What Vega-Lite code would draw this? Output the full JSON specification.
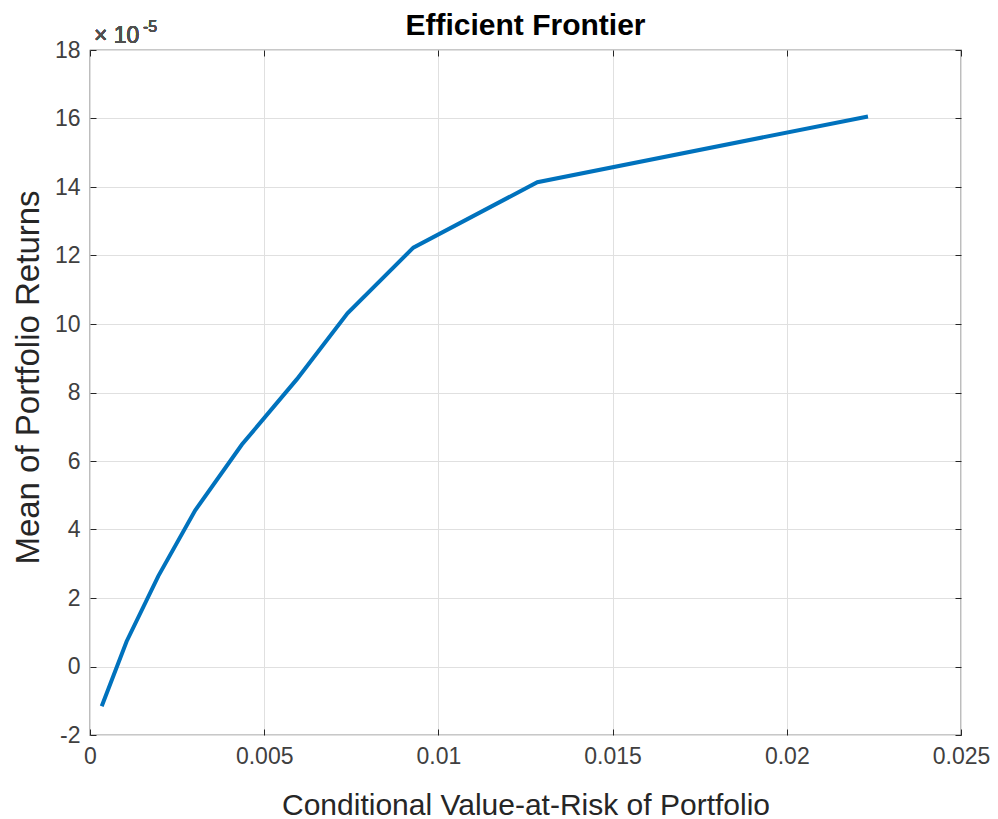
{
  "$schema": "https://vega.github.io/schema/vega-lite/v6.json",
  "autosize": {"type": "none"},
  "width": 871,
  "height": 685,
  "padding": {"left": 90, "top": 50, "right": 37, "bottom": 84},
  "background": "white",
  "title": {
    "text": "Efficient Frontier",
    "fontSize": 30,
    "fontWeight": "bold",
    "font": "Liberation Sans",
    "color": "#000000",
    "baseline": "alphabetic",
    "offset": 15,
    "dy": 61,
    "anchor": "middle"
  },
  "data": {
    "values": [
      {"cvar": 0.000336, "ret": -0.0000116},
      {"cvar": 0.00105, "ret": 0.0000073},
      {"cvar": 0.00196, "ret": 0.0000264},
      {"cvar": 0.00302, "ret": 0.0000456},
      {"cvar": 0.00436, "ret": 0.0000648},
      {"cvar": 0.00594, "ret": 0.0000839},
      {"cvar": 0.00739, "ret": 0.0001031},
      {"cvar": 0.00928, "ret": 0.0001223},
      {"cvar": 0.01284, "ret": 0.0001414},
      {"cvar": 0.02233, "ret": 0.0001606}
    ]
  },
  "resolve": {"axis": {"x": "independent", "y": "independent"}},
  "layer": [
    {
      "mark": {"type": "line", "color": "#0072BD", "strokeWidth": 4},
      "encoding": {
        "x": {
          "field": "cvar", "type": "quantitative",
          "scale": {"domain": [0, 0.025], "nice": false, "zero": false},
          "axis": {
            "orient": "bottom",
            "title": "Conditional Value-at-Risk of Portfolio",
            "values": [0, 0.005, 0.01, 0.015, 0.02, 0.025],
            "format": "~g",
            "grid": true, "gridColor": "#e0e0e0", "gridWidth": 1,
            "domain": false,
            "tickSize": -6, "tickColor": "#262626", "tickWidth": 1,
            "labelFontSize": 23, "labelFont": "Liberation Sans", "labelColor": "#404040",
            "labelPadding": 16, "labelBaseline": "top", "labelFlush": false,
            "titleFontSize": 30, "titleFont": "Liberation Sans", "titleFontWeight": "normal", "titleColor": "#262626",
            "titleBaseline": "alphabetic", "titleY": 79
          }
        },
        "y": {
          "field": "ret", "type": "quantitative",
          "scale": {"domain": [-0.00002, 0.00018], "nice": false, "zero": false},
          "axis": {
            "orient": "left",
            "title": "Mean of Portfolio Returns",
            "values": [-0.00002, 0, 0.00002, 0.00004, 0.00006, 0.00008, 0.0001, 0.00012, 0.00014, 0.00016, 0.00018],
            "labelExpr": "'' + round(datum.value * 100000)",
            "grid": true, "gridColor": "#e0e0e0", "gridWidth": 1,
            "domain": false,
            "tickSize": -6, "tickColor": "#262626", "tickWidth": 1,
            "labelFontSize": 23, "labelFont": "Liberation Sans", "labelColor": "#404040",
            "labelPadding": 16, "labelFlush": false,
            "titleFontSize": 33, "titleFont": "Liberation Sans", "titleFontWeight": "normal", "titleColor": "#262626",
            "titleBaseline": "alphabetic", "titleX": -52, "titleY": 327
          }
        }
      }
    },
    {
      "mark": {"type": "line", "color": "#0072BD", "strokeWidth": 4, "opacity": 0},
      "encoding": {
        "x": {
          "field": "cvar", "type": "quantitative",
          "axis": {
            "orient": "top", "title": null, "labels": false, "grid": false, "domain": false,
            "values": [0, 0.005, 0.01, 0.015, 0.02, 0.025],
            "tickSize": -6, "tickColor": "#262626", "tickWidth": 1
          }
        },
        "y": {
          "field": "ret", "type": "quantitative",
          "axis": {
            "orient": "right", "title": null, "labels": false, "grid": false, "domain": false,
            "values": [-0.00002, 0, 0.00002, 0.00004, 0.00006, 0.00008, 0.0001, 0.00012, 0.00014, 0.00016, 0.00018],
            "tickSize": -6, "tickColor": "#262626", "tickWidth": 1
          }
        }
      }
    },
    {
      "mark": {"type": "text", "text": "× 10", "align": "left", "baseline": "alphabetic", "dx": 4, "dy": -7, "fontSize": 23, "font": "Liberation Sans", "color": "#505050"},
      "encoding": {
        "x": {"datum": 0, "type": "quantitative", "axis": null},
        "y": {"datum": 0.00018, "type": "quantitative", "axis": null}
      }
    },
    {
      "mark": {"type": "text", "text": "-5", "align": "left", "baseline": "alphabetic", "dx": 53, "dy": -18, "fontSize": 16, "font": "Liberation Sans", "color": "#505050"},
      "encoding": {
        "x": {"datum": 0, "type": "quantitative", "axis": null},
        "y": {"datum": 0.00018, "type": "quantitative", "axis": null}
      }
    }
  ],
  "config": {
    "view": {"stroke": "#262626", "strokeWidth": 1.2},
    "font": "Liberation Sans"
  }
}
